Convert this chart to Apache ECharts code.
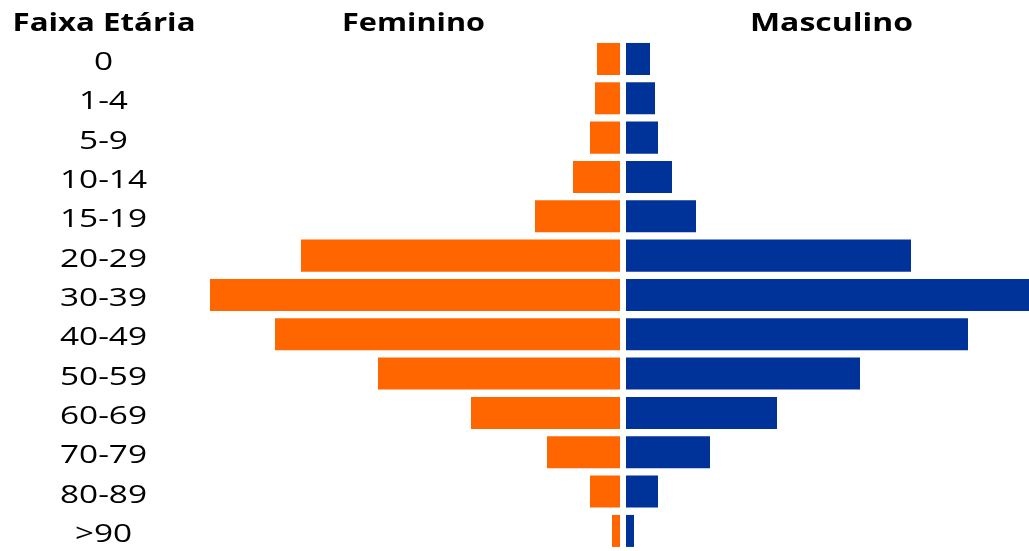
<!DOCTYPE html>
<html>
<head>
<meta charset="utf-8">
<script src="https://cdn.jsdelivr.net/npm/echarts@6/dist/echarts.min.js"></script>
<style>
html,body{margin:0;padding:0;background:#fff;}
#chart{width:1029px;height:551px;}
</style>
</head>
<body>
<div id="chart"></div>
<script>
const categories = ['0','1-4','5-9','10-14','15-19','20-29','30-39','40-49','50-59','60-69','70-79','80-89','>90'];
const feminino = [23, 25, 30, 47, 85, 319, 410, 345, 242, 149, 73, 30, 8];
const masculino = [24, 29, 32, 46, 70, 285, 408, 342, 234, 151, 84, 32, 8];
const headers = ['Faixa Etária', 'Feminino', 'Masculino'];

const FAM = '"Open Sans", "DejaVu Sans", sans-serif';
const REG = '25px ' + FAM;
const BOLD = 'bold 25px ' + FAM;

const cv = document.createElement('canvas').getContext('2d');
function w(text, font){ cv.font = font; return cv.measureText(text).width; }

const chart = echarts.init(document.getElementById('chart'));
chart.setOption({
  backgroundColor: '#ffffff',
  animation: false,
  grid: [
    {left: 210, width: 410, top: 39.3, height: 511.3},
    {left: 626, width: 403, top: 39.3, height: 511.3}
  ],
  xAxis: [
    {gridIndex: 0, type: 'value', inverse: true, min: 0, max: 410, show: false},
    {gridIndex: 1, type: 'value', min: 0, max: 403, show: false}
  ],
  yAxis: [
    {gridIndex: 0, type: 'category', data: categories, inverse: true, show: false},
    {gridIndex: 1, type: 'category', data: categories, inverse: true, show: false}
  ],
  series: [
    {type:'bar', xAxisIndex:0, yAxisIndex:0, data: feminino, barWidth:'81.4%',
     itemStyle:{color:'#FF6600'}, clip:true},
    {type:'bar', xAxisIndex:1, yAxisIndex:1, data: masculino, barWidth:'81.4%',
     itemStyle:{color:'#003399'}, clip:true}
  ]
});

// Text (headers and category labels), horizontally widened to match the reference lettering
const labelScale = 87 / w('20-29', REG);
const headerTargets = [[104, 183], [413.5, 143], [831.5, 163]];
const graphics = [];
headers.forEach((h, i) => {
  graphics.push({type:'text', x: headerTargets[i][0], y: 24,
    scaleX: headerTargets[i][1] / w(h, BOLD),
    style:{text: h, font: BOLD, fill:'#000', textAlign:'center', textVerticalAlign:'middle'}});
});
categories.forEach((c) => {
  const y = chart.convertToPixel({yAxisIndex: 0}, c);
  graphics.push({type:'text', x: 103.5, y: y + 4, scaleX: labelScale,
    style:{text: c, font: REG, fill:'#000', textAlign:'center', textVerticalAlign:'middle'}});
});
chart.setOption({graphic: graphics});
</script>
</body>
</html>
